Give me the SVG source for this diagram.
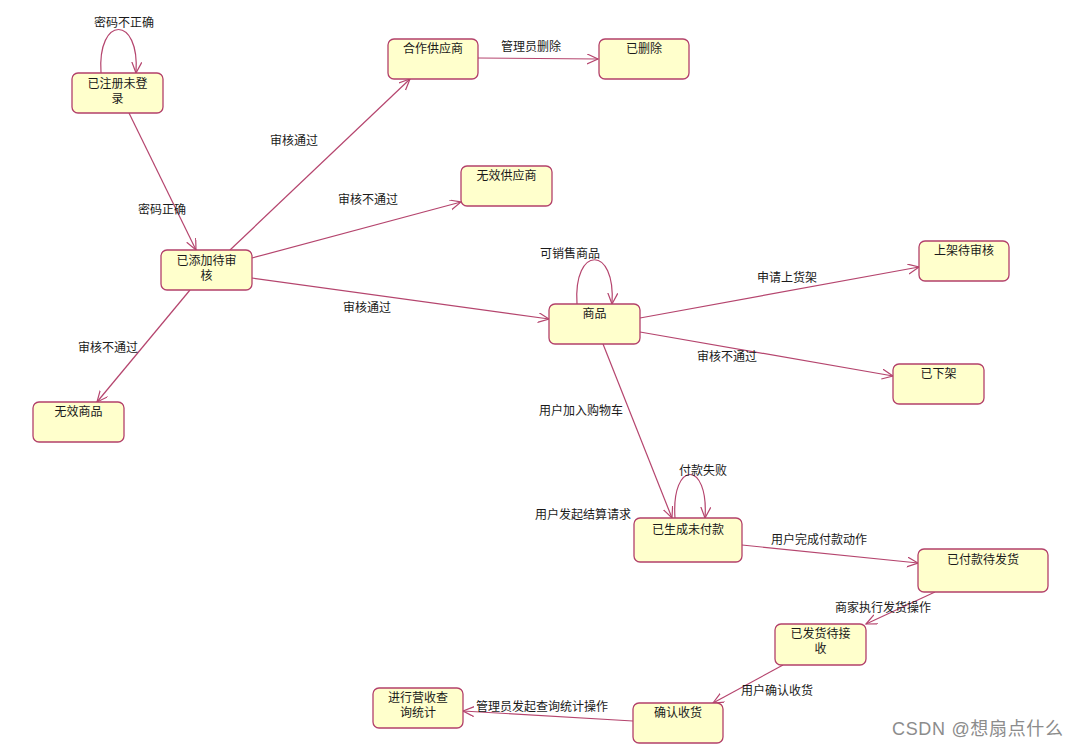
<svg xmlns="http://www.w3.org/2000/svg" width="1079" height="748" viewBox="0 0 1079 748">
<style>
.n{fill:#FFFFCC;stroke:#B3406A;stroke-width:1.3}
.t{font-family:"Liberation Sans","Noto Sans CJK SC",sans-serif;font-size:12px;fill:#1a1a1a;text-anchor:middle}
.l{font-family:"Liberation Sans","Noto Sans CJK SC",sans-serif;font-size:12px;fill:#1a1a1a}
.c{fill:none;stroke:#B5456E;stroke-width:1.2;marker-end:url(#a)}
.w{font-family:"Liberation Sans","Noto Sans CJK SC",sans-serif;font-size:18px;fill:#8c8c8c}
</style>
<defs>
<marker id="a" markerUnits="userSpaceOnUse" markerWidth="14" markerHeight="12" refX="11" refY="5" orient="auto">
<path d="M0,0 L11,5 L0,10" fill="none" stroke="#B5456E" stroke-width="1.2"/>
</marker>
</defs>
<rect width="1079" height="748" fill="#fff"/>
<g id="connectors">
<path class="c" d="M101,73 C97,15 140,15 136,73"/>
<path class="c" d="M129,113 L196,250"/>
<path class="c" d="M230,250 L410,79"/>
<path class="c" d="M252,258 L461,202"/>
<path class="c" d="M252,278 L549,319"/>
<path class="c" d="M190,290 L97,402"/>
<path class="c" d="M478,58 L598,59"/>
<path class="c" d="M577,304 C573,245 616,245 612,304"/>
<path class="c" d="M640,318 L919,267"/>
<path class="c" d="M640,332 L893,376"/>
<path class="c" d="M603,344 L672,518"/>
<path class="c" d="M675,518 C671,460 709,460 705,518"/>
<path class="c" d="M742,545 L918,563"/>
<path class="c" d="M935,592 L866,624"/>
<path class="c" d="M783,665 L713,703"/>
<path class="c" d="M633,721 L463,711"/>
</g>
<g id="labels">
<text class="l" x="94" y="27">密码不正确</text>
<text class="l" x="138" y="214">密码正确</text>
<text class="l" x="270" y="145">审核通过</text>
<text class="l" x="338" y="204">审核不通过</text>
<text class="l" x="343" y="312">审核通过</text>
<text class="l" x="78" y="352">审核不通过</text>
<text class="l" x="501" y="51">管理员删除</text>
<text class="l" x="540" y="258">可销售商品</text>
<text class="l" x="757" y="282">申请上货架</text>
<text class="l" x="697" y="361">审核不通过</text>
<text class="l" x="539" y="415">用户加入购物车</text>
<text class="l" x="679" y="475">付款失败</text>
<text class="l" x="535" y="519">用户发起结算请求</text>
<text class="l" x="771" y="544">用户完成付款动作</text>
<text class="l" x="835" y="612">商家执行发货操作</text>
<text class="l" x="741" y="695">用户确认收货</text>
<text class="l" x="476" y="711">管理员发起查询统计操作</text>
</g>
<g id="n1"><rect class="n" x="72" y="73" width="91" height="40" rx="6"/><text class="t" x="117.5" y="88">已注册未登</text><text class="t" x="117.5" y="103">录</text></g>
<g id="n2"><rect class="n" x="161" y="250" width="91" height="40" rx="6"/><text class="t" x="206.5" y="265">已添加待审</text><text class="t" x="206.5" y="280">核</text></g>
<g id="n3"><rect class="n" x="388" y="39" width="90" height="40" rx="6"/><text class="t" x="433" y="53">合作供应商</text></g>
<g id="n4"><rect class="n" x="599" y="39" width="90" height="40" rx="6"/><text class="t" x="644" y="53">已删除</text></g>
<g id="n5"><rect class="n" x="461" y="166" width="91" height="40" rx="6"/><text class="t" x="506.5" y="180">无效供应商</text></g>
<g id="n6"><rect class="n" x="549" y="304" width="91" height="40" rx="6"/><text class="t" x="594.5" y="318">商品</text></g>
<g id="n7"><rect class="n" x="919" y="241" width="90" height="40" rx="6"/><text class="t" x="964" y="255">上架待审核</text></g>
<g id="n8"><rect class="n" x="893" y="364" width="91" height="40" rx="6"/><text class="t" x="938.5" y="378">已下架</text></g>
<g id="n9"><rect class="n" x="33" y="402" width="91" height="40" rx="6"/><text class="t" x="78.5" y="416">无效商品</text></g>
<g id="n10"><rect class="n" x="634" y="518" width="108" height="44" rx="6"/><text class="t" x="688" y="534">已生成未付款</text></g>
<g id="n11"><rect class="n" x="918" y="549" width="130" height="43" rx="6"/><text class="t" x="983" y="564">已付款待发货</text></g>
<g id="n12"><rect class="n" x="775" y="624" width="91" height="41" rx="6"/><text class="t" x="820.5" y="638">已发货待接</text><text class="t" x="820.5" y="653">收</text></g>
<g id="n13"><rect class="n" x="633" y="703" width="90" height="40" rx="6"/><text class="t" x="678" y="717">确认收货</text></g>
<g id="n14"><rect class="n" x="373" y="688" width="90" height="40" rx="6"/><text class="t" x="418" y="702">进行营收查</text><text class="t" x="418" y="717">询统计</text></g>
<text class="w" x="892" y="735" textLength="171" lengthAdjust="spacing">CSDN @想扇点什么</text>
</svg>
